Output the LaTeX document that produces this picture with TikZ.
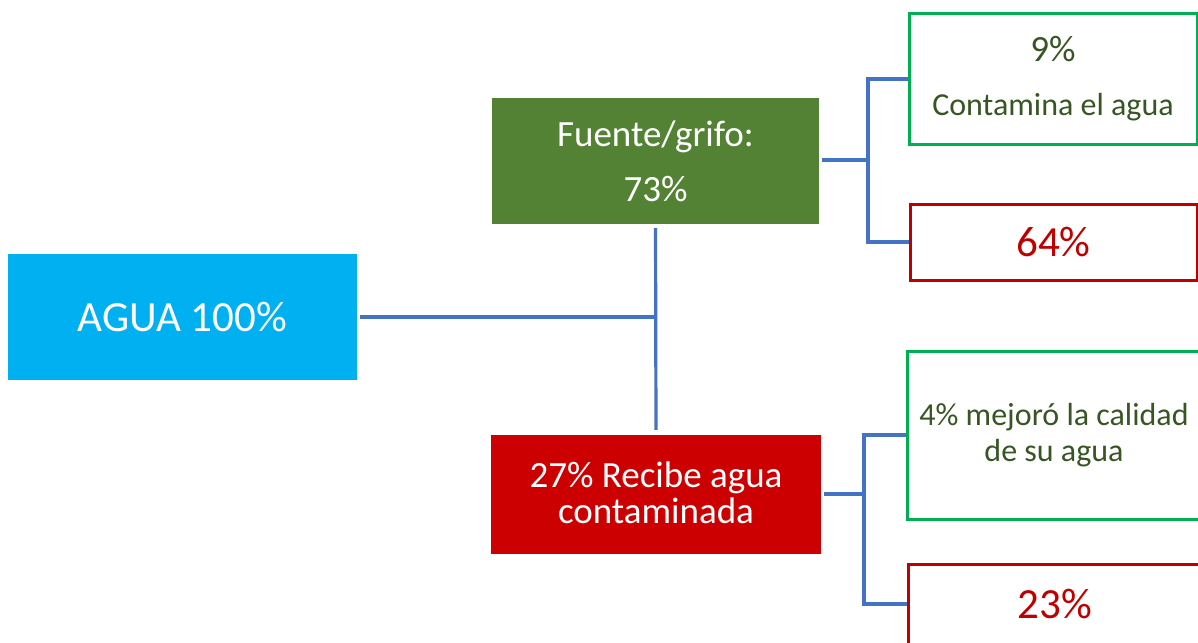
\documentclass[tikz,border=0pt]{standalone}
\usepackage{fontspec}
\setmainfont{Carlito}
\definecolor{aguablue}{HTML}{00B0F0}
\definecolor{fuentegreen}{HTML}{548235}
\definecolor{boxred}{HTML}{CC0000}
\definecolor{edgegreen}{HTML}{00B050}
\definecolor{edgered}{HTML}{C00000}
\definecolor{textgreen}{HTML}{375623}
\definecolor{linkblue}{HTML}{4472C4}
\begin{document}
\begin{tikzpicture}[x=1pt,y=-1pt,
  basebox/.style={rectangle, inner sep=0pt, align=center},
  solidbox/.style={basebox, text=white},
  greenbox/.style={basebox, draw=edgegreen, line width=3pt, fill=white, text=textgreen},
  redbox/.style={basebox, draw=edgered, line width=3pt, fill=white, text=edgered},
  link/.style={draw=linkblue, line width=3.2pt}
]
\useasboundingbox (0,0) rectangle (1198,642);
\clip (0,0) rectangle (1198,642);

% main boxes
\node[solidbox, fill=aguablue, minimum width=349pt, minimum height=126pt,
      font=\fontsize{43}{50}\selectfont] (agua) at (182.5,317) {AGUA 100\%};
\node[solidbox, fill=fuentegreen, minimum width=327pt, minimum height=126pt,
      font=\fontsize{37}{43}\selectfont] (fuente) at (655.5,161) {Fuente/grifo:\\[12pt]73\%};
\node[solidbox, fill=boxred, minimum width=330pt, minimum height=119pt,
      font=\fontsize{37}{36}\selectfont] (red27) at (656,494.5) {\raisebox{3pt}{27\% Recibe agua}\\\raisebox{3pt}{contaminada}};

% right boxes
\node[greenbox, minimum width=288pt, minimum height=130pt,
      font=\fontsize{32}{54}\selectfont] (g1) at (1053,79) {{\fontsize{37}{54}\selectfont 9\%}\\Contamina el agua};
\node[redbox, minimum width=287pt, minimum height=76pt,
      font=\fontsize{43}{50}\selectfont] (r1) at (1053.5,242) {64\%};
\node[greenbox, minimum width=294pt, minimum height=168pt,
      font=\fontsize{32}{36}\selectfont] (g2) at (1054,435) {4\% mejoró la calidad\\de su agua};
\node[redbox, minimum width=294pt, minimum height=80pt,
      font=\fontsize{43}{50}\selectfont] (r2) at (1055,604) {23\%};

% junction points
\coordinate (j0) at (656,317);
\coordinate (j1) at (868,160);
\coordinate (j2) at (864,494);

% connectors
\draw[link, shorten <=3pt] (agua.east) -- (j0);
\draw[link, shorten <=4pt, shorten >=5pt] (fuente.south) -- (red27.north);
\draw[link, shorten <=3pt] (fuente.east |- j1) -- (j1);
\draw[link] (g1.west) -| (j1) |- (r1.west);
\draw[link, shorten <=3pt] (red27.east |- j2) -- (j2);
\draw[link] (g2.west) -| (j2) |- (r2.west);
\end{tikzpicture}
\end{document}
